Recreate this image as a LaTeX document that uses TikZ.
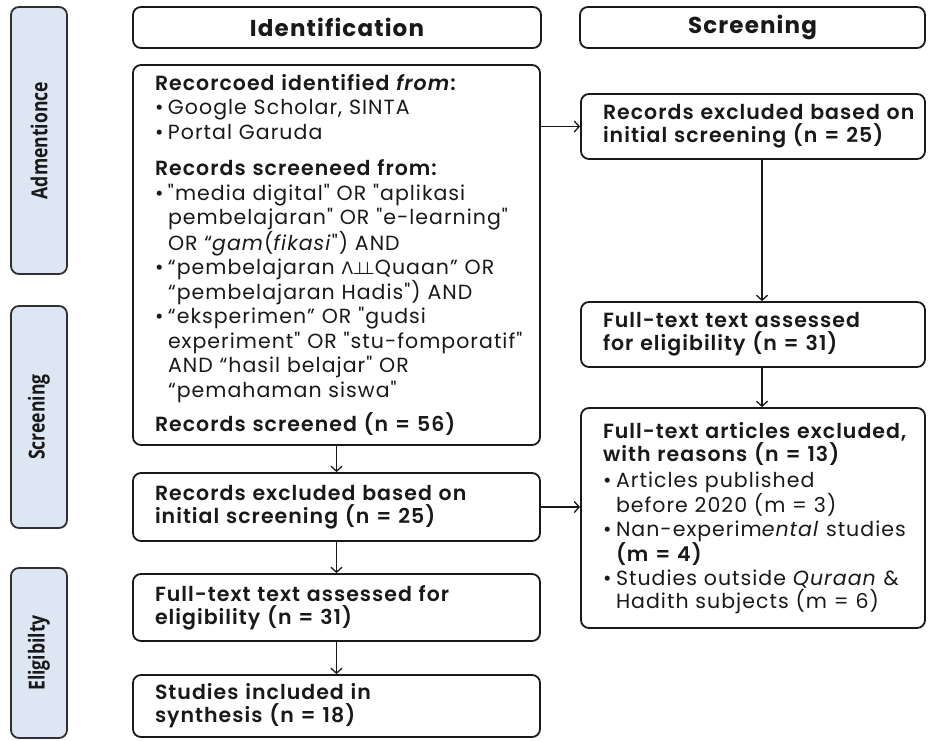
\documentclass[tikz,border=0pt]{standalone}
\usepackage{fontspec}
\IfFontExistsTF{Poppins SemiBold}{%
  \setmainfont{Poppins}[BoldFont={Poppins SemiBold}, LetterSpace=5, Ligatures=TeXOff]}{%
  \setmainfont{Poppins}[LetterSpace=5, Ligatures=TeXOff]}
\newfontfamily\hdrfontA{Poppins}[LetterSpace=5]\newcommand\hdrfont{\hdrfontA\bfseries}
\IfFontExistsTF{Open Sans SemiBold}{\newfontfamily\lblfont{Open Sans SemiBold}[FakeStretch=0.8]}{\newfontfamily\lblfontA{Open Sans}[FakeStretch=0.8]\newcommand\lblfont{\lblfontA\bfseries}}
\newfontfamily\djv{DejaVu Sans}
\usetikzlibrary{arrows.meta}
\definecolor{phasefill}{RGB}{221,231,243}
\definecolor{ink}{RGB}{25,25,25}
\newcommand\bul{\makebox[13pt][l]{•}}
\newcommand\ind{\hspace*{13pt}}
\tikzset{
  box/.style={draw=ink, line width=1.8pt, rounded corners=8pt, fill=white,
    inner xsep=0pt, inner ysep=0pt, align=left, text=ink,
    font=\fontsize{20.5}{23}\selectfont,
    execute at begin node={\leftskip=22pt\relax}},
  hdr/.style={draw=ink, line width=1.8pt, rounded corners=8pt, fill=white,
    align=center, text=ink, font=\hdrfont\fontsize{23}{26}\selectfont},
  phase/.style={draw=ink!90, line width=1.8pt, rounded corners=8pt, fill=phasefill,
    rotate=90, text=ink, font=\lblfont\fontsize{22}{24}\selectfont},
  arr/.style={-{Straight Barb[length=5pt,width=11pt]}, line width=1.3pt, draw=ink}
}
\begin{document}
\begin{tikzpicture}[x=1pt,y=-1pt]
\useasboundingbox (0,0) rectangle (930,740);
% phase labels
\node[phase, minimum width=267pt, minimum height=56pt] (pA) at (39,140.5) {Admentionce};
\node[phase, minimum width=222pt, minimum height=56pt] (pS) at (39,417) {Screening};
\node[phase, minimum width=170pt, minimum height=56pt] (pE) at (39,653) {Eligibilty};
% headers
\node[hdr, minimum width=408pt, minimum height=41pt] (hI) at (337,27.5) {Identification};
\node[hdr, minimum width=345pt, minimum height=41pt] (hS) at (752.5,27.5) {Screening};
% left column
\node[box, minimum width=407pt, minimum height=380pt, text width=407pt,
  font=\fontsize{20.5}{24.5}\selectfont] (big) at (336.5,255) {%
\textbf{Recorcoed identified \textit{from}:}\\
\bul Google Scholar, SINTA\\
\bul Portal Garuda\\[12pt]
\textbf{Records screeneed from:}\\
\bul "media digital" OR "aplikasi\\
\ind pembelajaran" OR "e-learning"\\
\ind OR “\textit{gam}(\textit{fikasi}") AND\\
\bul “pembelajaran {\djv\fontsize{17}{17}\selectfont Λ\kern-1pt⊥\kern-7pt⊥}Quaan” OR\\
\ind “pembelajaran Hadis") AND\\
\bul “eksperimen” OR "gudsi\\
\ind experiment" OR "stu-fomporatif"\\
\ind AND “hasil belajar" OR\\
\ind “pemahaman siswa"\\[10pt]
\textbf{Records screened (n = 56)}};
\node[box, minimum width=407pt, minimum height=68pt, text width=407pt] (L2) at (336.5,507) {%
\textbf{Records excluded based on}\\\textbf{initial screening (n = 25)}};
\node[box, minimum width=407pt, minimum height=67pt, text width=407pt] (L3) at (336.5,607.5) {%
\textbf{Full-text text assessed for}\\\textbf{eligibility (n = 31)}};
\node[box, minimum width=407pt, minimum height=62pt, text width=407pt] (L4) at (336.5,706) {%
\textbf{Studies included in}\\\textbf{synthesis (n = 18)}};
% right column
\node[box, minimum width=344pt, minimum height=65pt, text width=344pt] (R1) at (753,126.5) {%
\textbf{Records excluded based on}\\\textbf{initial screening (n = 25)}};
\node[box, minimum width=344pt, minimum height=65pt, text width=344pt] (R2) at (753,334.5) {%
\textbf{Full-text text assessed}\\\textbf{for eligibility (n = 31)}};
\node[box, minimum width=344pt, minimum height=220pt, text width=344pt,
  font=\fontsize{20.5}{23.5}\selectfont] (R3) at (753,518) {%
\textbf{Full-text articles excluded,}\\
\textbf{with reasons (n = 13)}\\[2pt]
\bul Articles published\\
\ind before 2020 (m = 3)\\
\bul Nan-experim\textit{ental} studies\\
\ind\textbf{(m = 4)}\\
\bul Studies outside \textit{Quraan} \&\\
\ind Hadith subjects (m = 6)};
% connectors
\draw[arr] (R1.west -| big.east) -- (R1.west);
\draw[arr] ([xshift=9pt]R1.south) -- ([xshift=9pt]R2.north);
\draw[arr] ([xshift=9pt]R2.south) -- ([xshift=9pt]R3.north);
\draw[arr] (big.south) -- (L2.north);
\draw[arr] (L2.south) -- (L3.north);
\draw[arr] (L3.south) -- (L4.north);
\draw[arr] (L2.east) -- (L2.east -| R3.west);
\end{tikzpicture}
\end{document}
